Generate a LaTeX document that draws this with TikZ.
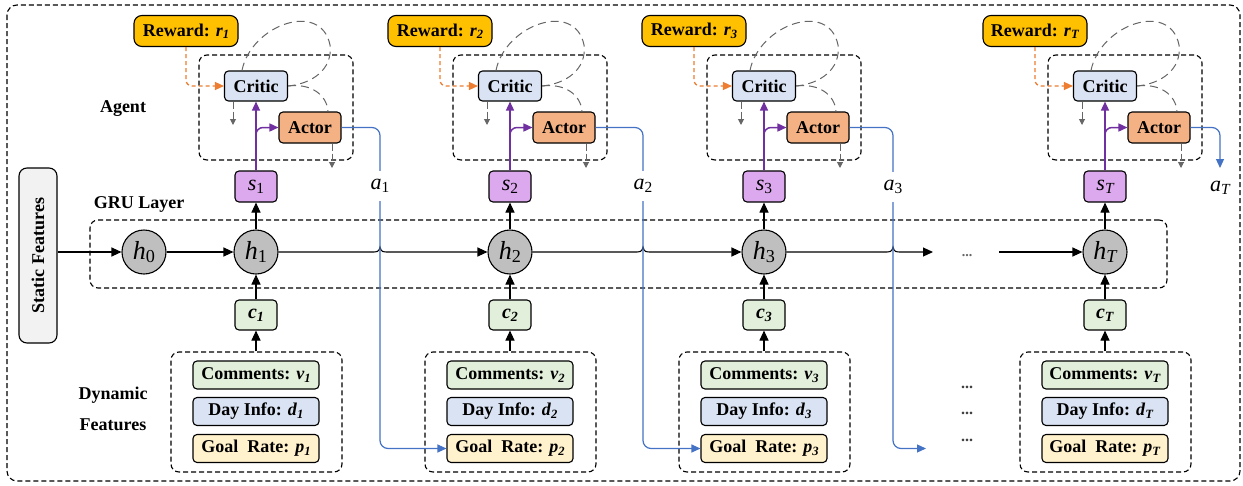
\documentclass[tikz,border=0pt]{standalone}
\usepackage{fontspec}
\setmainfont{Liberation Serif}
\usepackage{graphicx}
\usetikzlibrary{arrows.meta}
\definecolor{cRew}{HTML}{FFC000}
\definecolor{cCrit}{HTML}{DAE3F3}
\definecolor{cAct}{HTML}{F4B183}
\definecolor{cS}{HTML}{DCA9EE}
\definecolor{cH}{HTML}{BFBFBF}
\definecolor{cC}{HTML}{E2EFDA}
\definecolor{cCom}{HTML}{E2EFDA}
\definecolor{cDay}{HTML}{DAE3F3}
\definecolor{cGoal}{HTML}{FFF2CC}
\definecolor{cStat}{HTML}{F2F2F2}
\definecolor{cPur}{HTML}{7030A0}
\definecolor{cOra}{HTML}{ED7D31}
\definecolor{cBlu}{HTML}{4472C4}
\definecolor{cGry}{HTML}{666666}
\newcommand\lbl{\fontsize{18}{20}\selectfont\bfseries}
\newcommand\sbs[1]{\raisebox{-0.3ex}{\scalebox{0.7}{#1}}}
\tikzset{
  box/.style={draw, line width=1.1pt, rounded corners=4pt, inner sep=0pt, align=center},
  rewbox/.style={box, fill=cRew, minimum width=104, minimum height=31, rounded corners=8pt, font=\lbl},
  critbox/.style={box, fill=cCrit, minimum width=63, minimum height=30, font=\lbl},
  actbox/.style={box, fill=cAct, minimum width=62, minimum height=31, font=\lbl},
  sbox/.style={box, fill=cS, minimum width=42, minimum height=31, font={\fontsize{22}{24}\selectfont}},
  hcirc/.style={circle, draw, line width=1.1pt, fill=cH, minimum size=44, inner sep=0pt, font={\fontsize{26}{28}\selectfont}},
  cbox/.style={box, fill=cC, minimum width=42, minimum height=30, font={\fontsize{20}{22}\selectfont\bfseries}},
  fbox/.style={box, minimum width=126, minimum height=28, font=\lbl},
  dashbox/.style={draw, line width=1.1pt, rounded corners=8pt, dash pattern=on 5pt off 3pt, inner sep=0pt},
  alab/.style={inner sep=0pt, minimum height=30, font={\fontsize{22}{24}\selectfont}},
  plain/.style={font=\lbl},
  arr/.style={line width=1.1pt, -{Triangle[length=10pt,width=9pt]}},
  parr/.style={draw=cPur, line width=1.5pt, -{Triangle[length=9pt,width=8pt]}},
  oarr/.style={draw=cOra, line width=1.3pt, dash pattern=on 4pt off 3pt, -{Triangle[length=9pt,width=8pt]}},
  barr/.style={draw=cBlu, line width=1.2pt, -{Triangle[length=9pt,width=8pt]}},
  bline/.style={draw=cBlu, line width=1.2pt},
  gdash/.style={draw=cGry, line width=1pt, dash pattern=on 8pt off 5pt},
  garr/.style={draw=cGry, line width=1pt, dash pattern=on 7pt off 3pt, -{Triangle[length=6pt,width=6pt]}},
}
\begin{document}
\begin{tikzpicture}[x=1pt,y=-1pt]
\useasboundingbox (0,0) rectangle (1243,485);
\draw[dashbox, rounded corners=10pt] (7,5) rectangle (1240,481);

% static features
\node[box, fill=cStat, minimum width=38, minimum height=175, rounded corners=8pt] (static) at (38,255.5) {};
\node[rotate=90, font=\lbl] (stattxt) at (static) {Static Features};

% labels
\node[plain] (agentlbl) at (123,109) {Agent};
\node[plain] (grulbl) at (139,204) {GRU Layer};
\node[plain] (dynlbl1) at (113,395) {Dynamic};
\node[plain] (dynlbl2) at (113,425) {Features};

% GRU dashed box
\node[dashbox, minimum width=1077, minimum height=68] (gru) at (628.5,254) {};

\node[hcirc] (h0) at (144,252) {\textit{h}\sbs{0}};

\foreach \i/\X/\j in {1/256/1,2/510/2,3/764/3,T/1105/{\itshape T}} {
  \node[dashbox, minimum width=154, minimum height=105] (agent\i) at (\X+20,107.5) {};
  \node[rewbox] (rew\i) at (\X-70,31) {Reward: \textit{r}\sbs{\textit{\i}}};
  \node[critbox] (crit\i) at (\X,86) {Critic};
  \node[actbox] (act\i) at (\X+54,127.5) {Actor};
  \node[sbox] (s\i) at (\X,186.5) {\textit{s}\sbs{\j}};
  \node[hcirc] (h\i) at (\X,252) {\textit{h}\sbs{\j}};
  \node[cbox] (c\i) at (\X,315) {\textit{c}\sbs{\textit{\i}}};
  \node[dashbox, minimum width=171, minimum height=120] (dyn\i) at (\X+0.5,412) {};
  \node[fbox, fill=cCom] (com\i) at (\X,375) {Comments: \textit{v}\sbs{\textit{\i}}};
  \node[fbox, fill=cDay] (day\i) at (\X,411.5) {Day Info: \textit{d}\sbs{\textit{\i}}};
  \node[fbox, fill=cGoal] (goal\i) at (\X,448.5) {Goal\ \ Rate: \textit{p}\sbs{\textit{\i}}};
  % connectors
  \draw[arr] (h\i.north) -- (s\i.south);
  \draw[arr] (c\i.north) -- (h\i.south);
  \draw[arr] (c\i.south |- dyn\i.north) -- (c\i.south);
  \draw[parr] (s\i.north) -- (crit\i.south);
  \draw[parr, rounded corners=7pt] (s\i.north) |- (act\i.west);
  \draw[oarr, rounded corners=6pt] (rew\i.south) |- (crit\i.west);
  \coordinate (cg\i) at (\X-23,125);
  \coordinate (ag\i) at (\X+76,168);
  \draw[garr] (cg\i |- crit\i.south) -- (cg\i);
  \draw[garr] (ag\i |- act\i.south) -- (ag\i);
  \draw[gdash] ([xshift=-14pt]crit\i.north) .. controls (\X-5,25) and (\X+65,0) .. (\X+74,45) .. controls (\X+77,70) and (\X+55,84) .. (crit\i.east);
  \draw[gdash] (crit\i.east) .. controls (\X+55,83) and (\X+71,95) .. ([xshift=18pt]act\i.north);
}

% action labels
\node[alab] (a1) at (380,186) {\textit{a}\sbs{1}};
\node[alab] (a2) at (643,186) {\textit{a}\sbs{2}};
\node[alab] (a3) at (893,187) {\textit{a}\sbs{3}};
\node[alab] (aT) at (1220,188) {\textit{a}\sbs{\itshape T}};

% GRU chain
\draw[arr] (static.east |- h0.west) -- (h0.west);
\draw[arr] (h0) -- (h1);
\draw[arr] (h1.east) -- (372,252) .. controls (377,252) and (379,252) .. (380,247) .. controls (381,252) and (383,252) .. (388,252) -- (h2.west);
\draw[arr] (h2.east) -- (635,252) .. controls (640,252) and (642,252) .. (643,247) .. controls (644,252) and (646,252) .. (651,252) -- (h3.west);
\coordinate (g1) at (933,252);
\coordinate (g2) at (999,252);
\draw[arr] (h3.east) -- (885,252) .. controls (890,252) and (892,252) .. (893,247) .. controls (894,252) and (896,252) .. (901,252) -- (g1);
\node[font={\fontsize{14}{14}\selectfont\bfseries}, text=cGry] (gdots) at (967,256) {...};
\draw[arr] (g2) -- (hT.west);

% dots in dynamic features
\node[font={\fontsize{16}{16}\selectfont\bfseries}, text=black!75] (dd1) at (967,387) {...};
\node[font={\fontsize{16}{16}\selectfont\bfseries}, text=black!75] (dd2) at (967,413) {...};
\node[font={\fontsize{16}{16}\selectfont\bfseries}, text=black!75] (dd3) at (967,440) {...};

% actions (blue)
\draw[bline, rounded corners=8pt] (act1.east) -| (a1.north);
\draw[barr, rounded corners=8pt] (a1.south) |- (goal2.west);
\draw[bline, rounded corners=8pt] (act2.east) -| (a2.north);
\draw[barr, rounded corners=8pt] (a2.south) |- (goal3.west);
\draw[bline, rounded corners=8pt] (act3.east) -| (a3.north);
\coordinate (a3end) at (926,448.5);
\draw[barr, rounded corners=8pt] (a3.south) |- (a3end);
\coordinate (aTend) at (1220,168);
\draw[barr, rounded corners=8pt] (actT.east) -| (aTend);
\end{tikzpicture}
\end{document}
